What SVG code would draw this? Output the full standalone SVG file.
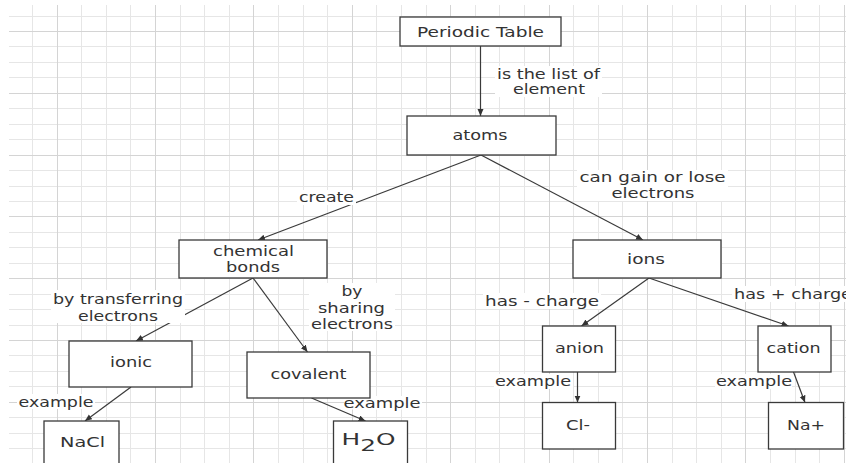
<svg xmlns="http://www.w3.org/2000/svg" width="846" height="463" viewBox="0 0 846 463">
<defs>
<style>
.minor{stroke:#e6e6e6;stroke-width:1;fill:none}
.major{stroke:#d4d4d4;stroke-width:1;fill:none}
.box{fill:#ffffff;stroke:#3a3a3a;stroke-width:1.3}
.t{font-family:"DejaVu Sans","Liberation Sans",sans-serif;font-size:14px;fill:#333333;text-anchor:middle}
.ts{font-family:"DejaVu Sans","Liberation Sans",sans-serif;font-size:14px;fill:#333333;text-anchor:start}
.edge{stroke:#3a3a3a;stroke-width:1.2;fill:none;marker-end:url(#arr)}
.bg{fill:#ffffff}
</style>
<marker id="arr" markerUnits="userSpaceOnUse" markerWidth="8" markerHeight="7" refX="7" refY="3" orient="auto">
<path d="M0,0 L7,3 L0,6 z" fill="#333333"/>
</marker>
</defs>
<rect x="0" y="0" width="846" height="463" fill="#ffffff"/>
<g id="grid">
<path class="minor" d="M32.5 5V463M81.5 5V463M106.5 5V463M130.5 5V463M180.5 5V463M204.5 5V463M229.5 5V463M278.5 5V463M303.5 5V463M327.5 5V463M376.5 5V463M401.5 5V463M426.5 5V463M475.5 5V463M499.5 5V463M524.5 5V463M573.5 5V463M598.5 5V463M622.5 5V463M672.5 5V463M696.5 5V463M721.5 5V463M770.5 5V463M795.5 5V463M819.5 5V463
M9 16.5H846M9 46.5H846M9 62.5H846M9 77.5H846M9 108.5H846M9 124.5H846M9 139.5H846M9 170.5H846M9 186.5H846M9 201.5H846M9 232.5H846M9 247.5H846M9 263.5H846M9 294.5H846M9 309.5H846M9 325.5H846M9 355.5H846M9 371.5H846M9 386.5H846M9 417.5H846M9 433.5H846M9 448.5H846"/>
<path class="major" d="M57.5 5V463M155.5 5V463M253.5 5V463M352.5 5V463M450.5 5V463M549.5 5V463M647.5 5V463M745.5 5V463M844.5 5V463
M9 31.5H846M9 93.5H846M9 155.5H846M9 216.5H846M9 278.5H846M9 340.5H846M9 402.5H846"/>
</g>
<g id="connectors">
<line class="edge" x1="480.5" y1="46" x2="480.5" y2="116"/>
<line class="edge" x1="481" y1="155" x2="258" y2="240"/>
<line class="edge" x1="481" y1="155" x2="643" y2="240"/>
<line class="edge" x1="253" y1="278" x2="136" y2="341"/>
<line class="edge" x1="253" y1="278" x2="307.5" y2="352"/>
<line class="edge" x1="131" y1="387" x2="85" y2="421"/>
<line class="edge" x1="311.5" y1="398" x2="365.5" y2="421"/>
<line class="edge" x1="649" y1="278" x2="581.5" y2="326"/>
<line class="edge" x1="649" y1="278" x2="788.5" y2="326"/>
<line class="edge" x1="577.5" y1="372" x2="577.5" y2="402.5"/>
<line class="edge" x1="793.5" y1="372" x2="805" y2="402.5"/>
<g id="labels">
<rect class="bg" x="495" y="66" width="107" height="31"/>
<text class="t" x="548.5" y="78.5" textLength="103" lengthAdjust="spacingAndGlyphs">is the list of</text>
<text class="t" x="549" y="94" textLength="72" lengthAdjust="spacingAndGlyphs">element</text>
<rect class="bg" x="297" y="190" width="59" height="15"/>
<text class="t" x="326.5" y="202" textLength="55" lengthAdjust="spacingAndGlyphs">create</text>
<rect class="bg" x="577" y="170" width="151" height="31"/>
<text class="t" x="652.5" y="182" textLength="146" lengthAdjust="spacingAndGlyphs">can gain or lose</text>
<text class="t" x="653" y="198" textLength="83" lengthAdjust="spacingAndGlyphs">electrons</text>
<rect class="bg" x="51" y="290" width="134" height="33"/>
<text class="t" x="118" y="303.5" textLength="130" lengthAdjust="spacingAndGlyphs">by transferring</text>
<text class="t" x="118" y="320.5" textLength="80" lengthAdjust="spacingAndGlyphs">electrons</text>
<rect class="bg" x="309" y="283" width="86" height="48"/>
<text class="t" x="352" y="296" textLength="21" lengthAdjust="spacingAndGlyphs">by</text>
<text class="t" x="351.5" y="312.5" textLength="67" lengthAdjust="spacingAndGlyphs">sharing</text>
<text class="t" x="352" y="328.5" textLength="82" lengthAdjust="spacingAndGlyphs">electrons</text>
<rect class="bg" x="483" y="293" width="118" height="16"/>
<text class="t" x="542" y="306" textLength="114" lengthAdjust="spacingAndGlyphs">has - charge</text>
<rect class="bg" x="732" y="286" width="114" height="16"/>
<text class="ts" x="734" y="298.5" textLength="118" lengthAdjust="spacingAndGlyphs">has + charge</text>
<rect class="bg" x="17" y="394" width="78" height="15"/>
<text class="t" x="56" y="406.5" textLength="75" lengthAdjust="spacingAndGlyphs">example</text>
<rect class="bg" x="344" y="396" width="78" height="13.5"/>
<text class="t" x="382" y="408" textLength="77" lengthAdjust="spacingAndGlyphs">example</text>
<rect class="bg" x="494" y="374" width="79" height="15"/>
<text class="t" x="533" y="386" textLength="76" lengthAdjust="spacingAndGlyphs">example</text>
<rect class="bg" x="715" y="374" width="77" height="15"/>
<text class="t" x="754" y="386" textLength="76" lengthAdjust="spacingAndGlyphs">example</text>
</g>
</g>
<g id="periodic-table">
<rect class="box" x="400" y="17" width="161" height="29"/>
<text class="t" x="480.5" y="36.5" textLength="127" lengthAdjust="spacingAndGlyphs">Periodic Table</text>
</g>
<g id="atoms">
<rect class="box" x="407" y="116" width="149" height="39"/>
<text class="t" x="480" y="140" textLength="55" lengthAdjust="spacingAndGlyphs">atoms</text>
</g>
<g id="chemical-bonds">
<rect class="box" x="179" y="240" width="148" height="38"/>
<text class="t" x="253.5" y="256" textLength="81" lengthAdjust="spacingAndGlyphs">chemical</text>
<text class="t" x="253" y="271.5" textLength="54" lengthAdjust="spacingAndGlyphs">bonds</text>
</g>
<g id="ions">
<rect class="box" x="573" y="240" width="148" height="38"/>
<text class="t" x="646" y="264" textLength="38" lengthAdjust="spacingAndGlyphs">ions</text>
</g>
<g id="ionic">
<rect class="box" x="69" y="341" width="123" height="46"/>
<text class="t" x="131" y="367" textLength="42" lengthAdjust="spacingAndGlyphs">ionic</text>
</g>
<g id="covalent">
<rect class="box" x="247" y="352" width="123" height="46"/>
<text class="t" x="308.5" y="379" textLength="76" lengthAdjust="spacingAndGlyphs">covalent</text>
</g>
<g id="anion">
<rect class="box" x="542.5" y="326" width="73" height="46"/>
<text class="t" x="579.5" y="353" textLength="49" lengthAdjust="spacingAndGlyphs">anion</text>
</g>
<g id="cation">
<rect class="box" x="758" y="326" width="73" height="46"/>
<text class="t" x="793.5" y="353" textLength="54" lengthAdjust="spacingAndGlyphs">cation</text>
</g>
<g id="nacl">
<rect class="box" x="44" y="421" width="75" height="50"/>
<text class="t" x="82.5" y="446.5" textLength="45" lengthAdjust="spacingAndGlyphs">NaCl</text>
</g>
<g id="h2o">
<rect class="box" x="333.5" y="421" width="74" height="50"/>
<text class="ts" style="font-size:16px" transform="translate(341.5,445) scale(1.55,1)" x="0" y="0">H<tspan dy="6">2</tspan><tspan dy="-6">O</tspan></text>
</g>
<g id="cl-minus">
<rect class="box" x="542.5" y="402.5" width="73" height="46.5"/>
<text class="t" x="578" y="430" textLength="24" lengthAdjust="spacingAndGlyphs">Cl-</text>
</g>
<g id="na-plus">
<rect class="box" x="768.5" y="402.5" width="75" height="46.5"/>
<text class="t" x="806" y="430" textLength="38" lengthAdjust="spacingAndGlyphs">Na+</text>
</g>
</svg>
